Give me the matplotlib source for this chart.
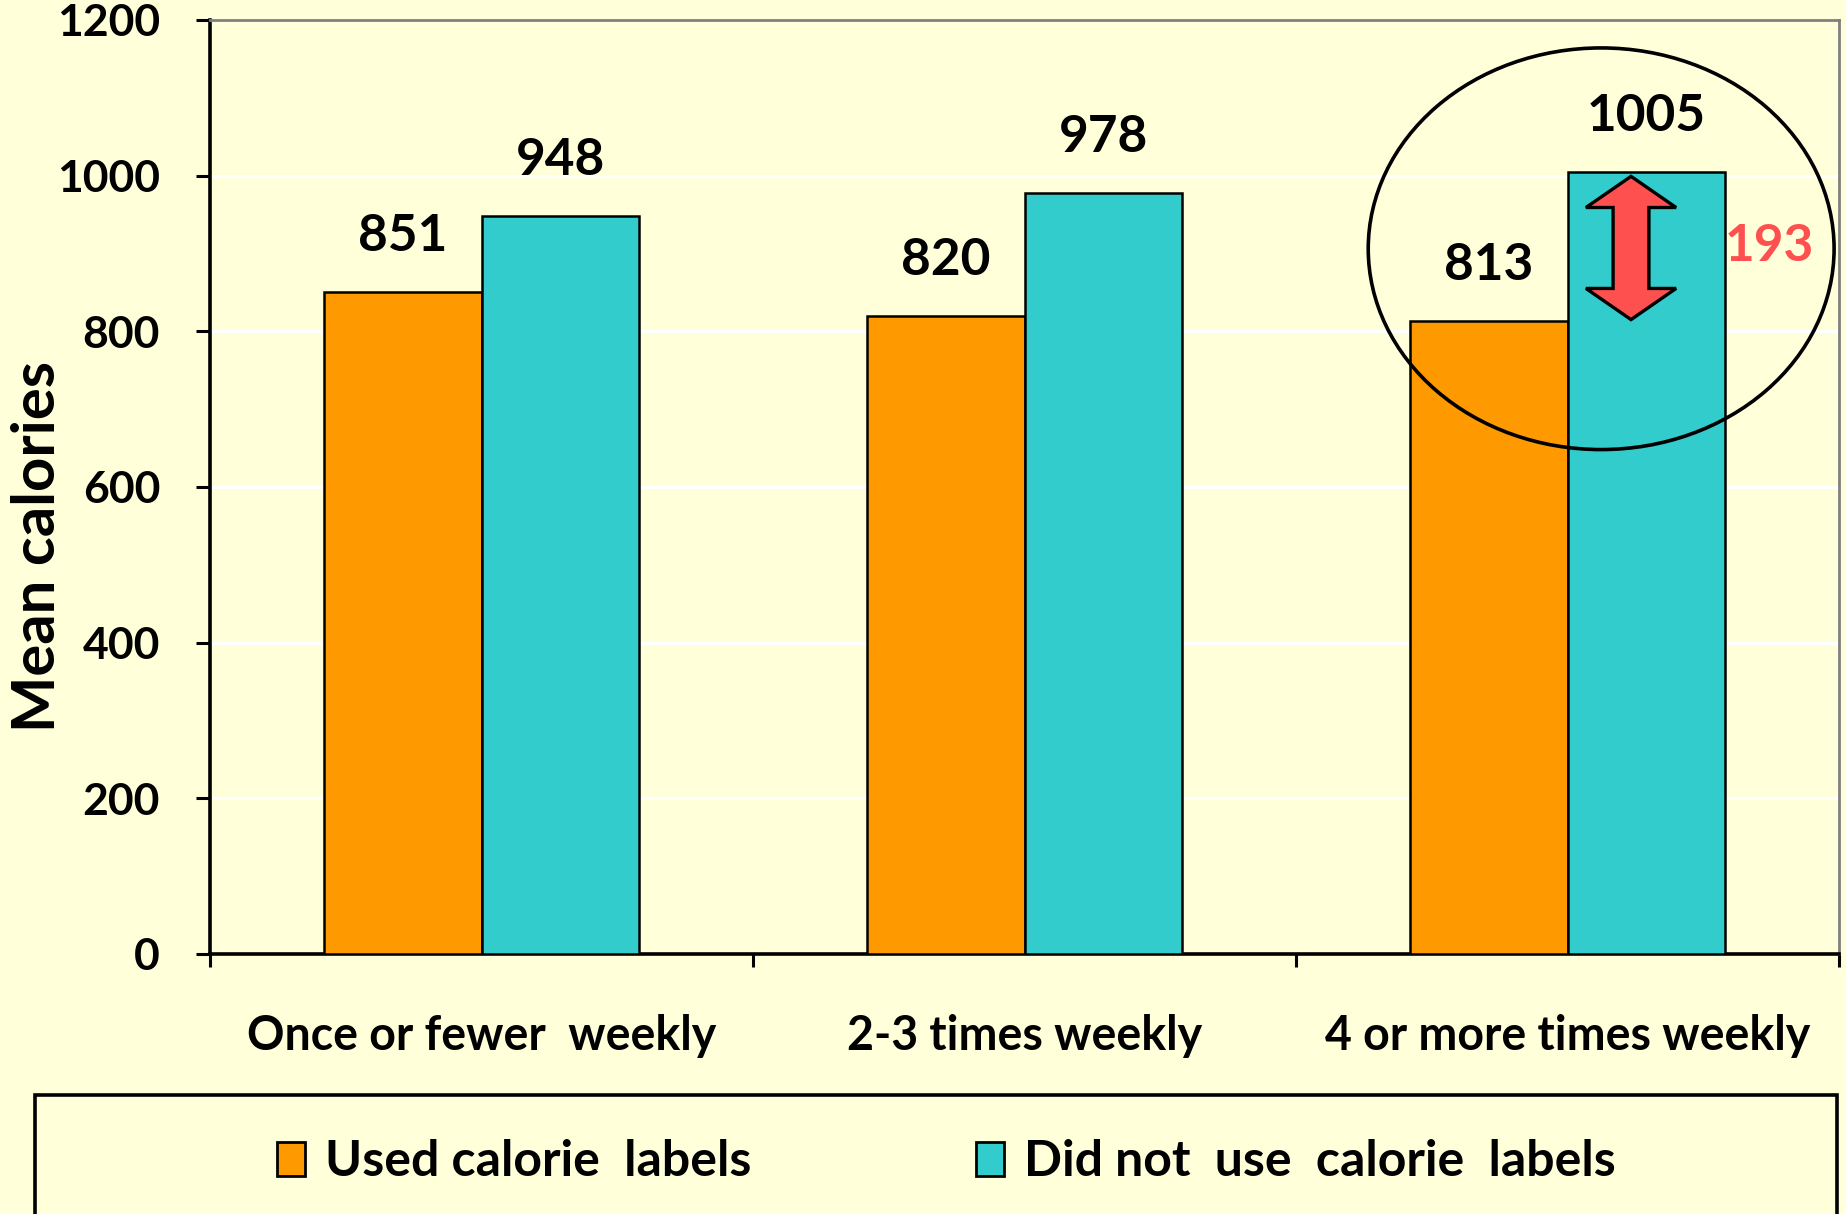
import matplotlib
matplotlib.use("Agg")
import matplotlib.pyplot as plt
from matplotlib.patches import Ellipse, Polygon, Rectangle, Patch
import numpy as np

# Data
categories = ["Once or fewer  weekly", "2-3 times weekly", "4 or more times weekly"]
used_labels = [851, 820, 813]
not_used_labels = [948, 978, 1005]
series_names = ["Used calorie  labels", "Did not  use  calorie  labels"]
gap_label = "193"
y_ticks = [0, 200, 400, 600, 800, 1000, 1200]

BG = "#FFFFDA"
ORANGE = "#FF9900"
TEAL = "#33CCCC"
RED = "#FF5050"

plt.rcParams["font.family"] = ["Lato", "DejaVu Sans"]
plt.rcParams["font.weight"] = "bold"

fig = plt.figure(figsize=(18.46, 12.14), dpi=100, facecolor=BG)
ax = fig.add_axes([0.1138, 0.2142, 0.8824, 0.7694], facecolor=BG)

x = np.arange(len(categories))
w = 0.29
b1 = ax.bar(x - w / 2, used_labels, w, color=ORANGE, edgecolor="black", linewidth=1.8, zorder=3)
b2 = ax.bar(x + w / 2, not_used_labels, w, color=TEAL, edgecolor="black", linewidth=1.8, zorder=3)

# value labels above bars
for bars, vals in ((b1, used_labels), (b2, not_used_labels)):
    for rect, v in zip(bars, vals):
        ax.annotate(f"{v}", (rect.get_x() + rect.get_width() / 2, v),
                    xytext=(0, 40), textcoords="offset points",
                    ha="center", va="center", fontsize=37, fontweight="bold",
                    color="black", zorder=5)

ax.set_xlim(-0.5, len(categories) - 0.5)
ax.set_ylim(0, 1200)
ax.set_yticks(y_ticks)
ax.set_yticklabels([str(t) for t in y_ticks], fontsize=32, fontweight="bold")
ax.yaxis.grid(True, color="white", linewidth=2.2, zorder=0)
ax.set_axisbelow(True)

# category labels centred, tick marks at group boundaries
ax.set_xticks(x)
ax.set_xticklabels(categories, fontsize=33.5, fontweight="bold")
ax.tick_params(axis="x", which="major", length=0, pad=43)
ax.set_xticks(np.arange(len(categories) + 1) - 0.5, minor=True)
ax.tick_params(axis="x", which="minor", length=9, width=2.2, direction="out")
ax.tick_params(axis="y", which="major", length=10, width=2.2, direction="out", pad=26)

for side in ("left", "bottom"):
    ax.spines[side].set_linewidth(2.6)
    ax.spines[side].set_color("black")
for side in ("top", "right"):
    ax.spines[side].set_linewidth(2.0)
    ax.spines[side].set_color("#808080")

ylab = ax.set_ylabel("Mean calories", fontsize=43, fontweight="bold")
ylab.set_va("center")
ax.yaxis.set_label_coords(-0.1058, 0.436)

# highlight of the last group: ellipse and double arrow showing the gap
ell = Ellipse((2.062, 906), 0.858, 516, fill=False, edgecolor="black", linewidth=2.6, zorder=6)
ax.add_patch(ell)

lo, hi = used_labels[2], not_used_labels[2]
ax_c = 2.117
head_half = 0.083
shaft_half = 0.033
head_len = 40
arrow_pts = [
    (ax_c, hi - 6),
    (ax_c + head_half, hi - 6 - head_len),
    (ax_c + shaft_half, hi - 6 - head_len),
    (ax_c + shaft_half, lo + 2 + head_len),
    (ax_c + head_half, lo + 2 + head_len),
    (ax_c, lo + 2),
    (ax_c - head_half, lo + 2 + head_len),
    (ax_c - shaft_half, lo + 2 + head_len),
    (ax_c - shaft_half, hi - 6 - head_len),
    (ax_c - head_half, hi - 6 - head_len),
]
ax.add_patch(Polygon(arrow_pts, closed=True, facecolor=RED, edgecolor="black",
                     linewidth=2.4, joinstyle="miter", zorder=7))
ax.text(2.29, (lo + hi) / 2, gap_label, color=RED, fontsize=37, fontweight="bold",
        ha="left", va="center", zorder=7)

# legend panel
fig.patches.append(Rectangle((35 / 1846, -0.05), (1837 - 35) / 1846, 0.05 + 1 - 1095 / 1214,
                             transform=fig.transFigure, fill=False, edgecolor="black",
                             linewidth=2.6, clip_on=False))
handles = [Patch(facecolor=ORANGE, edgecolor="black", linewidth=2.0),
           Patch(facecolor=TEAL, edgecolor="black", linewidth=2.0)]
fig.legend(handles, series_names, ncol=2, loc="center", bbox_to_anchor=(0.5125, 0.043),
           frameon=False, handlelength=0.56, handleheight=0.66, handletextpad=0.4,
           columnspacing=4.5, prop={"size": 36, "weight": "bold"})

fig.savefig("out.png", dpi=100, facecolor=BG)
